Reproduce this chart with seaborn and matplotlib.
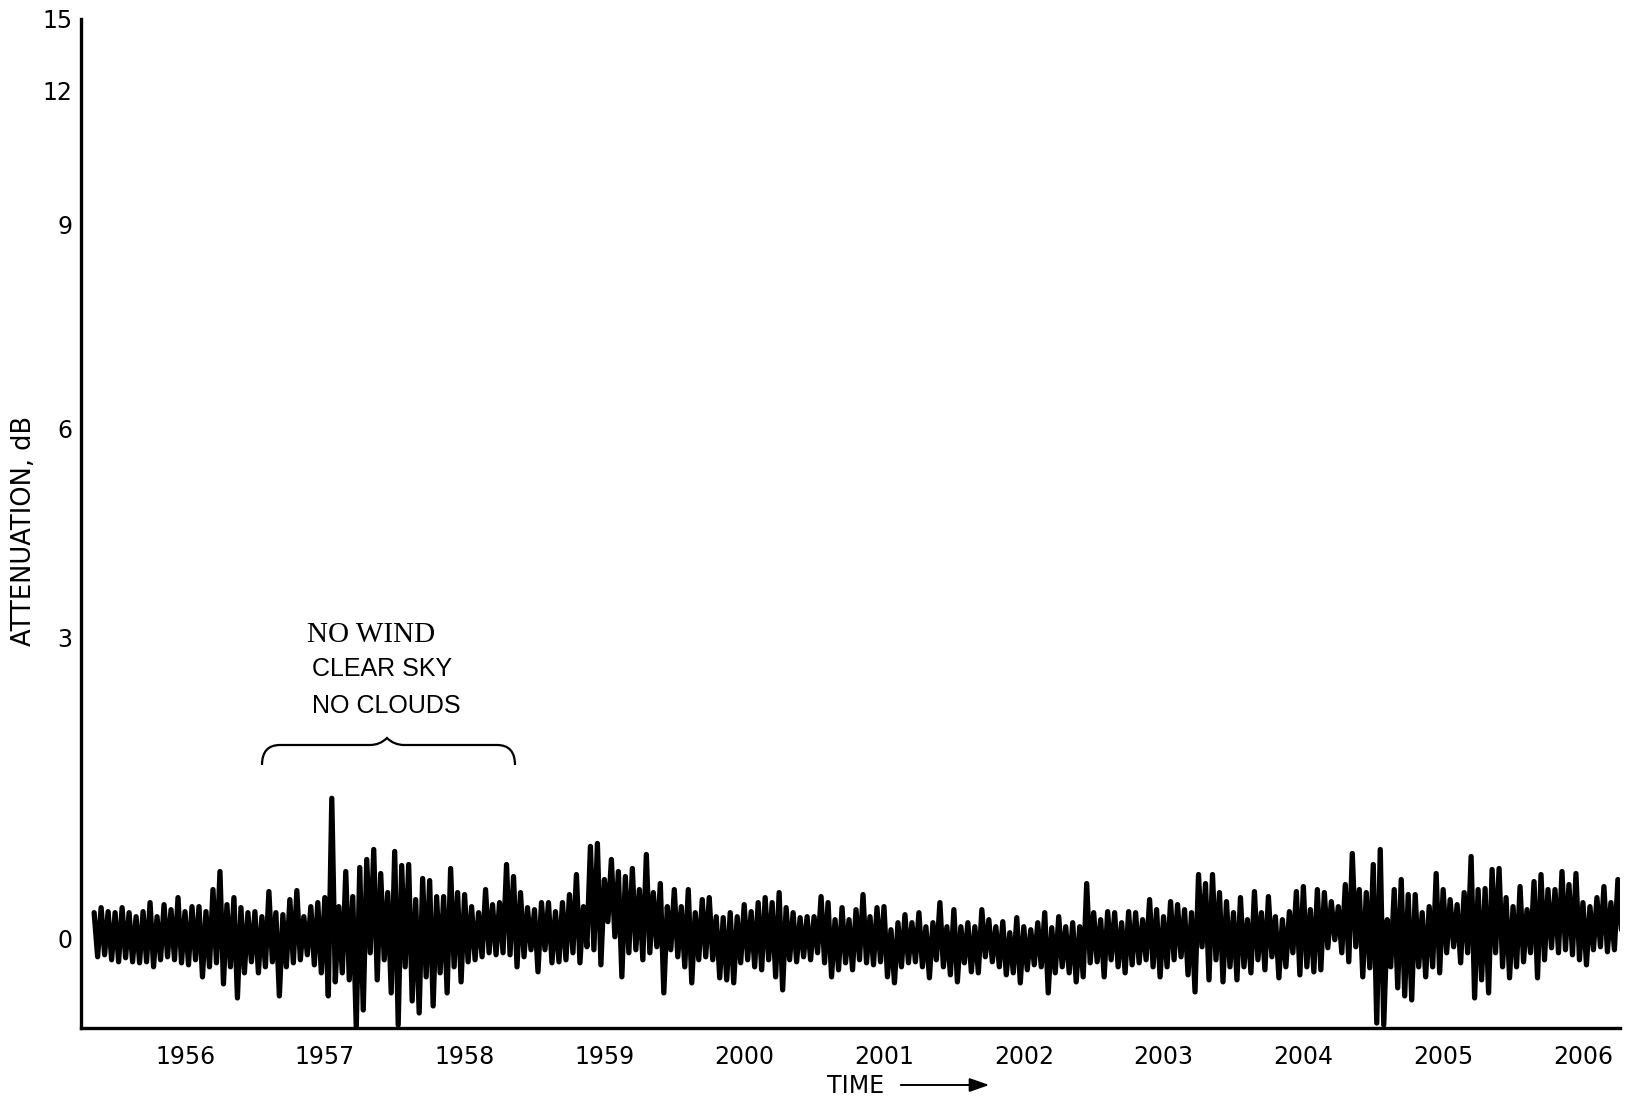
import numpy as np
import pandas as pd
import matplotlib
matplotlib.use("Agg")
import matplotlib.pyplot as plt
from matplotlib.path import Path
from matplotlib.patches import PathPatch
import seaborn as sns

# Recorder trace, sampled every 0.05 min starting 0.65 min before 19:56.
# Each sample holds the upper and lower excursion of the pen (dB).
t_start = -0.65
t_step = 0.05

hi = [
    0.26, 0.31, 0.27, 0.26, 0.31, 0.26, 0.22, 0.27, 0.36, 0.22,
    0.34, 0.29, 0.41, 0.27, 0.32, 0.32, 0.27, 0.49, 0.67, 0.34,
    0.41, 0.31, 0.26, 0.27, 0.22, 0.47, 0.26, 0.24, 0.39, 0.48,
    0.22, 0.32, 0.36, 0.41, 1.40, 0.32, 0.67, 0.42, 0.71, 0.79,
    0.89, 0.65, 0.46, 0.87, 0.73, 0.74, 0.39, 0.60, 0.58, 0.42,
    0.42, 0.70, 0.46, 0.44, 0.32, 0.26, 0.49, 0.34, 0.36, 0.74,
    0.62, 0.46, 0.31, 0.29, 0.36, 0.36, 0.27, 0.36, 0.44, 0.64,
    0.32, 0.92, 0.95, 0.59, 0.79, 0.67, 0.62, 0.70, 0.49, 0.84,
    0.46, 0.55, 0.32, 0.49, 0.32, 0.49, 0.26, 0.39, 0.41, 0.22,
    0.21, 0.26, 0.22, 0.34, 0.27, 0.36, 0.41, 0.36, 0.46, 0.31,
    0.26, 0.21, 0.22, 0.22, 0.42, 0.36, 0.19, 0.31, 0.19, 0.29,
    0.44, 0.22, 0.31, 0.32, 0.09, 0.16, 0.24, 0.16, 0.26, 0.12,
    0.16, 0.36, 0.12, 0.29, 0.12, 0.16, 0.12, 0.29, 0.19, 0.12,
    0.17, 0.06, 0.21, 0.12, 0.09, 0.16, 0.26, 0.11, 0.22, 0.12,
    0.16, 0.12, 0.55, 0.26, 0.19, 0.27, 0.26, 0.16, 0.27, 0.26,
    0.19, 0.39, 0.29, 0.22, 0.37, 0.34, 0.29, 0.26, 0.64, 0.55,
    0.64, 0.46, 0.37, 0.26, 0.41, 0.19, 0.47, 0.26, 0.42, 0.22,
    0.19, 0.27, 0.47, 0.52, 0.29, 0.49, 0.46, 0.37, 0.32, 0.54,
    0.85, 0.49, 0.46, 0.74, 0.89, 0.19, 0.49, 0.59, 0.44, 0.44,
    0.26, 0.32, 0.65, 0.49, 0.39, 0.34, 0.46, 0.82, 0.49, 0.50,
    0.69, 0.70, 0.41, 0.32, 0.52, 0.29, 0.57, 0.64, 0.49, 0.49,
    0.67, 0.54, 0.65, 0.36, 0.32, 0.41, 0.52, 0.36, 0.59,
]

lo = [
    -0.18, -0.16, -0.21, -0.23, -0.19, -0.23, -0.24, -0.23, -0.28, -0.21,
    -0.18, -0.21, -0.24, -0.26, -0.21, -0.38, -0.28, -0.24, -0.45, -0.28,
    -0.59, -0.34, -0.23, -0.34, -0.28, -0.23, -0.57, -0.28, -0.24, -0.21,
    -0.16, -0.26, -0.34, -0.57, -0.43, -0.34, -0.41, -0.89, -0.71, -0.14,
    -0.41, -0.21, -0.54, -0.86, -0.28, -0.62, -0.74, -0.38, -0.67, -0.34,
    -0.54, -0.28, -0.43, -0.23, -0.21, -0.18, -0.14, -0.16, -0.14, -0.16,
    -0.28, -0.18, -0.11, -0.33, -0.11, -0.24, -0.23, -0.21, -0.14, -0.24,
    -0.08, -0.11, -0.26, 0.17, 0.02, -0.38, -0.14, -0.11, -0.21, -0.14,
    -0.08, -0.54, -0.11, -0.18, -0.28, -0.44, -0.21, -0.18, -0.21, -0.39,
    -0.41, -0.44, -0.24, -0.21, -0.28, -0.31, -0.21, -0.38, -0.51, -0.21,
    -0.23, -0.18, -0.21, -0.14, -0.24, -0.38, -0.31, -0.24, -0.31, -0.21,
    -0.24, -0.26, -0.23, -0.38, -0.44, -0.28, -0.24, -0.23, -0.28, -0.39,
    -0.21, -0.28, -0.36, -0.43, -0.24, -0.33, -0.34, -0.18, -0.23, -0.28,
    -0.36, -0.34, -0.44, -0.31, -0.26, -0.28, -0.54, -0.34, -0.28, -0.34,
    -0.43, -0.38, -0.24, -0.23, -0.38, -0.21, -0.28, -0.34, -0.26, -0.24,
    -0.21, -0.28, -0.38, -0.28, -0.21, -0.18, -0.36, -0.53, -0.08, -0.41,
    -0.21, -0.43, -0.28, -0.41, -0.28, -0.34, -0.21, -0.31, -0.18, -0.39,
    -0.28, -0.14, -0.36, -0.28, -0.33, -0.31, -0.09, -0.01, -0.14, -0.23,
    -0.08, -0.38, -0.29, -0.84, -0.86, -0.28, -0.49, -0.57, -0.61, -0.28,
    -0.38, -0.28, -0.34, -0.14, -0.08, -0.24, -0.14, -0.59, -0.41, -0.54,
    -0.14, -0.28, -0.39, -0.28, -0.23, -0.14, -0.39, -0.21, -0.09, -0.14,
    -0.11, -0.16, -0.21, -0.26, -0.11, -0.08, -0.13, -0.11, 0.09,
]

time_labels = ["1956", "1957", "1958", "1959", "2000", "2001",
               "2002", "2003", "2004", "2005", "2006"]
y_ticks = [0, 3, 6, 9, 12, 15]
notes = ["NO WIND", "CLEAR SKY", "NO CLOUDS"]

# Hand-ruled attenuation axis: spacing of the graduations is not uniform.
scale_vals = np.array([-3.0, 0.0, 3.0, 6.0, 9.0, 12.0, 15.0, 18.0])
scale_pos = np.array([-301.0, 0.0, 301.0, 510.0, 714.0, 848.0, 920.0, 992.0])


def fwd(v):
    return np.interp(v, scale_vals, scale_pos)


def inv(p):
    return np.interp(p, scale_pos, scale_vals)


# Pen path: swing up to the upper excursion, then down to the lower one
n = len(hi)
t_hi = t_start + t_step * np.arange(n)
t_lo = t_hi + t_step / 2
trace = pd.DataFrame({
    "t": np.column_stack([t_hi, t_lo]).ravel(),
    "v": np.column_stack([hi, lo]).ravel(),
})

sns.set_theme(style="white")
plt.rcParams["font.family"] = ["DejaVu Sans"]

W, H = 1627, 1103
fig = plt.figure(figsize=(W / 100, H / 100), dpi=100)
ax = fig.add_axes([81 / W, 1 - 1028 / H, (1620 - 81) / W, (1028 - 19) / H])

sns.lineplot(data=trace, x="t", y="v", sort=False, estimator=None,
             color="black", linewidth=3.8, ax=ax)

ax.set_yscale("function", functions=(fwd, inv))
ax.set_xlim(-0.744, 10.265)
ax.set_ylim(-0.89, 15)

ax.set_xticks(range(len(time_labels)))
ax.set_xticklabels(time_labels)
ax.set_yticks(y_ticks)
ax.set_yticklabels([str(v) for v in y_ticks])
ax.set_xlabel("")
ax.set_ylabel("")

for side in ("top", "right"):
    ax.spines[side].set_visible(False)
for side in ("left", "bottom"):
    ax.spines[side].set_color("black")
    ax.spines[side].set_linewidth(2.4)

ax.tick_params(axis="both", direction="in", length=9, width=2.0,
               color="black", labelcolor="black", labelsize=17)
ax.tick_params(axis="x", pad=12)
ax.tick_params(axis="y", pad=6)
ax.grid(False)
ax.set_facecolor("white")
fig.patch.set_facecolor("white")

# Axis titles
fig.text(24 / W, 1 - 531 / H, "ATTENUATION, dB", rotation=90,
         ha="center", va="center", fontsize=18.5, color="black")
fig.text(856 / W, 1 - 1086 / H, "TIME", ha="center", va="center",
         fontsize=17, color="black")
ax.annotate("", xy=(992 / W, 1 - 1085 / H), xytext=(898 / W, 1 - 1085 / H),
            xycoords="figure fraction", textcoords="figure fraction",
            arrowprops=dict(arrowstyle="-|>,head_length=1.0,head_width=0.35",
                            color="black", lw=1.4))

# Weather remarks over the quiet interval
fig.text(371 / W, 1 - 635 / H, notes[0], ha="center", va="center",
         fontsize=21, family=["Liberation Serif", "DejaVu Serif"],
         color="black")
fig.text(382 / W, 1 - 669 / H, notes[1], ha="center", va="center",
         fontsize=18, family=["Liberation Sans", "DejaVu Sans"],
         color="black")
fig.text(386 / W, 1 - 706 / H, notes[2], ha="center", va="center",
         fontsize=18, family=["Liberation Sans", "DejaVu Sans"],
         color="black")

# Curly brace spanning the interval
brace_px = [
    (262, 765), (262, 745), (280, 745),
    (370, 745), (380, 745), (387, 738),
    (394, 745), (404, 745),
    (497, 745), (515, 745), (515, 765),
]
codes = [Path.MOVETO, Path.CURVE3, Path.CURVE3,
         Path.LINETO, Path.CURVE3, Path.CURVE3,
         Path.CURVE3, Path.CURVE3,
         Path.LINETO, Path.CURVE3, Path.CURVE3]
verts = [(x / W, 1 - y / H) for x, y in brace_px]
fig.patches.append(PathPatch(Path(verts, codes), transform=fig.transFigure,
                             fill=False, edgecolor="black", lw=1.6))

fig.savefig("out.png", dpi=100, facecolor="white")
